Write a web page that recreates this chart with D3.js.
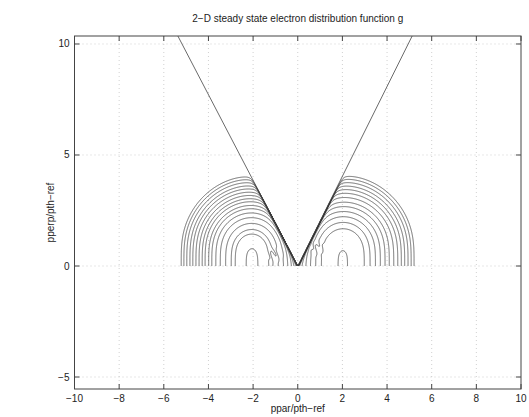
<!DOCTYPE html>
<html>
<head>
<meta charset="utf-8">
<script src="https://cdn.jsdelivr.net/npm/d3@7"></script>
<style>
body { margin: 0; background: #fff; }
text { font-family: "Liberation Sans", Arial, sans-serif; fill: #222; }
</style>
</head>
<body>
<svg width="529" height="417"></svg>
<script>

// DATA

var xTicks = [-10, -8, -6, -4, -2, 0, 2, 4, 6, 8, 10]
var yTicks = [-5, 0, 5, 10]
var xDomain = [-10, 10]
var yDomain = [-5.54, 10.36]

// trapped / passing boundary, from the origin to the top edge
var boundaryLeft = [[0, 0], [-5.37, 10.36]]
var boundaryRight = [[0, 0], [5.125, 10.36]]

// where each contour crosses the ppar axis (first entry = innermost loop)
var leftCrossings = [-2.32, -2.81, -2.99, -3.24, -3.48, -3.68, -3.86, -4.00, -4.16,
	-4.29, -4.43, -4.57, -4.71, -4.84, -4.98, -5.11, -5.23]
var rightCrossings = [2.22, 2.97, 3.23, 3.47, 3.69, 3.90, 4.09, 4.29, 4.47,
	4.63, 4.78, 4.93, 5.07, 5.20]

// maxima of g on the ppar axis
var leftPeak = -2.05
var rightPeak = 2.0

// centres of the small noisy patches next to the boundary
var leftPatch = [-1.0, 0.5]
var rightPatch = [0.85, 0.8]

// LAYOUT

var width = 529
var height = 417
var margin = { left: 74.5, right: 8, top: 36, bottom: 28 }

var svg = d3.select("svg")

var x = d3.scaleLinear().domain(xDomain).range([margin.left, width - margin.right])
var y = d3.scaleLinear().domain(yDomain).range([height - margin.bottom, margin.top])

var x0 = x.range()[0], x1 = x.range()[1]
var y0 = y.range()[1], y1 = y.range()[0]

// grid
var grid = svg.append("g").attr("class", "grid")
	.attr("stroke", "#bbb")
	.attr("stroke-width", 0.7)
	.attr("stroke-dasharray", "1,3")

grid.selectAll(".gx").data(xTicks.slice(1, -1)).enter()
	.append("line")
	.attr("x1", function(d) { return x(d) }).attr("x2", function(d) { return x(d) })
	.attr("y1", y0).attr("y2", y1)

grid.selectAll(".gy").data(yTicks).enter()
	.append("line")
	.attr("x1", x0).attr("x2", x1)
	.attr("y1", function(d) { return y(d) }).attr("y2", function(d) { return y(d) })

// FIELD (log g, shape only; the levels come from the axis crossings above)

var LOW = -1000

function lobe(px, py, peak, slope, side, patch) {
	if (px * side <= 0) return LOW
	var ay = Math.abs(py)
	var t = slope * Math.abs(px) - ay
	if (t <= 0) return LOW
	var yy = ay * ay
	var v = -(px - peak) * (px - peak) - yy * yy / (4.8 + 1.33 * yy) - 0.12 / t
	// ripple
	var dx = px - patch[0], dy = ay - patch[1]
	v += 0.35 * Math.exp(-(dx * dx + dy * dy) / 0.065) * Math.cos(dx * 18 + dy * 9)
	return v
}

var h = 0.02

function contourPaths(xa, xb, peak, slope, side, crossings, patch) {
	var ya = -5, yb = 5
	var nx = Math.round((xb - xa) / h) + 1
	var ny = Math.round((yb - ya) / h) + 1
	var values = new Float64Array(nx * ny)
	for (var j = 0; j < ny; j++) {
		for (var i = 0; i < nx; i++) {
			values[j * nx + i] = lobe(xa + i * h, ya + j * h, peak, slope, side, patch)
		}
	}
	var levels = crossings.map(function(c) { return lobe(c, 0, peak, slope, side, patch) })
	var geoms = d3.contours().size([nx, ny]).thresholds(levels)(values)
	geoms.forEach(function(g) {
		g.coordinates = g.coordinates.map(function(poly) {
			return poly.map(function(ring) {
				return ring.map(function(p) { return [x(xa + p[0] * h), y(ya + p[1] * h)] })
			})
		})
	})
	return geoms
}

var slopeLeft = boundaryLeft[1][1] / Math.abs(boundaryLeft[1][0])
var slopeRight = boundaryRight[1][1] / Math.abs(boundaryRight[1][0])

var contours = contourPaths(-6, 0.1, leftPeak, slopeLeft, -1, leftCrossings, leftPatch)
	.concat(contourPaths(-0.1, 6, rightPeak, slopeRight, 1, rightCrossings, rightPatch))

svg.append("clipPath").attr("id", "upper")
	.append("rect")
	.attr("x", x0).attr("y", y0)
	.attr("width", x1 - x0).attr("height", y(0) - y0)

var path = d3.geoPath()

svg.append("g").attr("class", "contours")
	.attr("clip-path", "url(#upper)")
	.attr("fill", "none")
	.attr("stroke", "#333")
	.attr("stroke-width", 0.7)
	.selectAll("path").data(contours).enter()
	.append("path")
	.attr("d", path)

// boundary lines
var line = d3.line().x(function(d) { return x(d[0]) }).y(function(d) { return y(d[1]) })

svg.append("g").attr("class", "boundary")
	.attr("fill", "none").attr("stroke", "#444").attr("stroke-width", 0.8)
	.selectAll("path").data([boundaryLeft, boundaryRight]).enter()
	.append("path").attr("d", line)

// AXES (box with inward ticks on all sides)

var axes = svg.append("g").attr("stroke", "#444").attr("stroke-width", 1)

axes.append("rect")
	.attr("x", x0).attr("y", y0)
	.attr("width", x1 - x0).attr("height", y1 - y0)
	.attr("fill", "none")

var tk = 5

xTicks.forEach(function(d) {
	axes.append("line").attr("x1", x(d)).attr("x2", x(d)).attr("y1", y1).attr("y2", y1 - tk)
	axes.append("line").attr("x1", x(d)).attr("x2", x(d)).attr("y1", y0).attr("y2", y0 + tk)
})
yTicks.forEach(function(d) {
	axes.append("line").attr("x1", x0).attr("x2", x0 + tk).attr("y1", y(d)).attr("y2", y(d))
	axes.append("line").attr("x1", x1).attr("x2", x1 - tk).attr("y1", y(d)).attr("y2", y(d))
})

function fmt(d) { return d < 0 ? "\u2212" + Math.abs(d) : "" + d }

svg.append("g").selectAll("text").data(xTicks).enter()
	.append("text")
	.attr("x", function(d) { return x(d) })
	.attr("y", y1 + 13)
	.attr("text-anchor", "middle")
	.attr("font-size", 10)
	.text(fmt)

svg.append("g").selectAll("text").data(yTicks).enter()
	.append("text")
	.attr("x", x0 - 5)
	.attr("y", function(d) { return y(d) + 3.5 })
	.attr("text-anchor", "end")
	.attr("font-size", 10)
	.text(fmt)

// labels

svg.append("text")
	.attr("x", (x0 + x1) / 2).attr("y", 21.5)
	.attr("text-anchor", "middle").attr("font-size", 10)
	.text("2\u2212D steady state electron distribution function g")

svg.append("text")
	.attr("x", (x0 + x1) / 2).attr("y", 412)
	.attr("text-anchor", "middle").attr("font-size", 10)
	.text("ppar/pth\u2212ref")

svg.append("text")
	.attr("transform", "translate(54," + ((y0 + y1) / 2) + ") rotate(-90)")
	.attr("text-anchor", "middle").attr("font-size", 10)
	.text("pperp/pth\u2212ref")

</script>
</body>
</html>
